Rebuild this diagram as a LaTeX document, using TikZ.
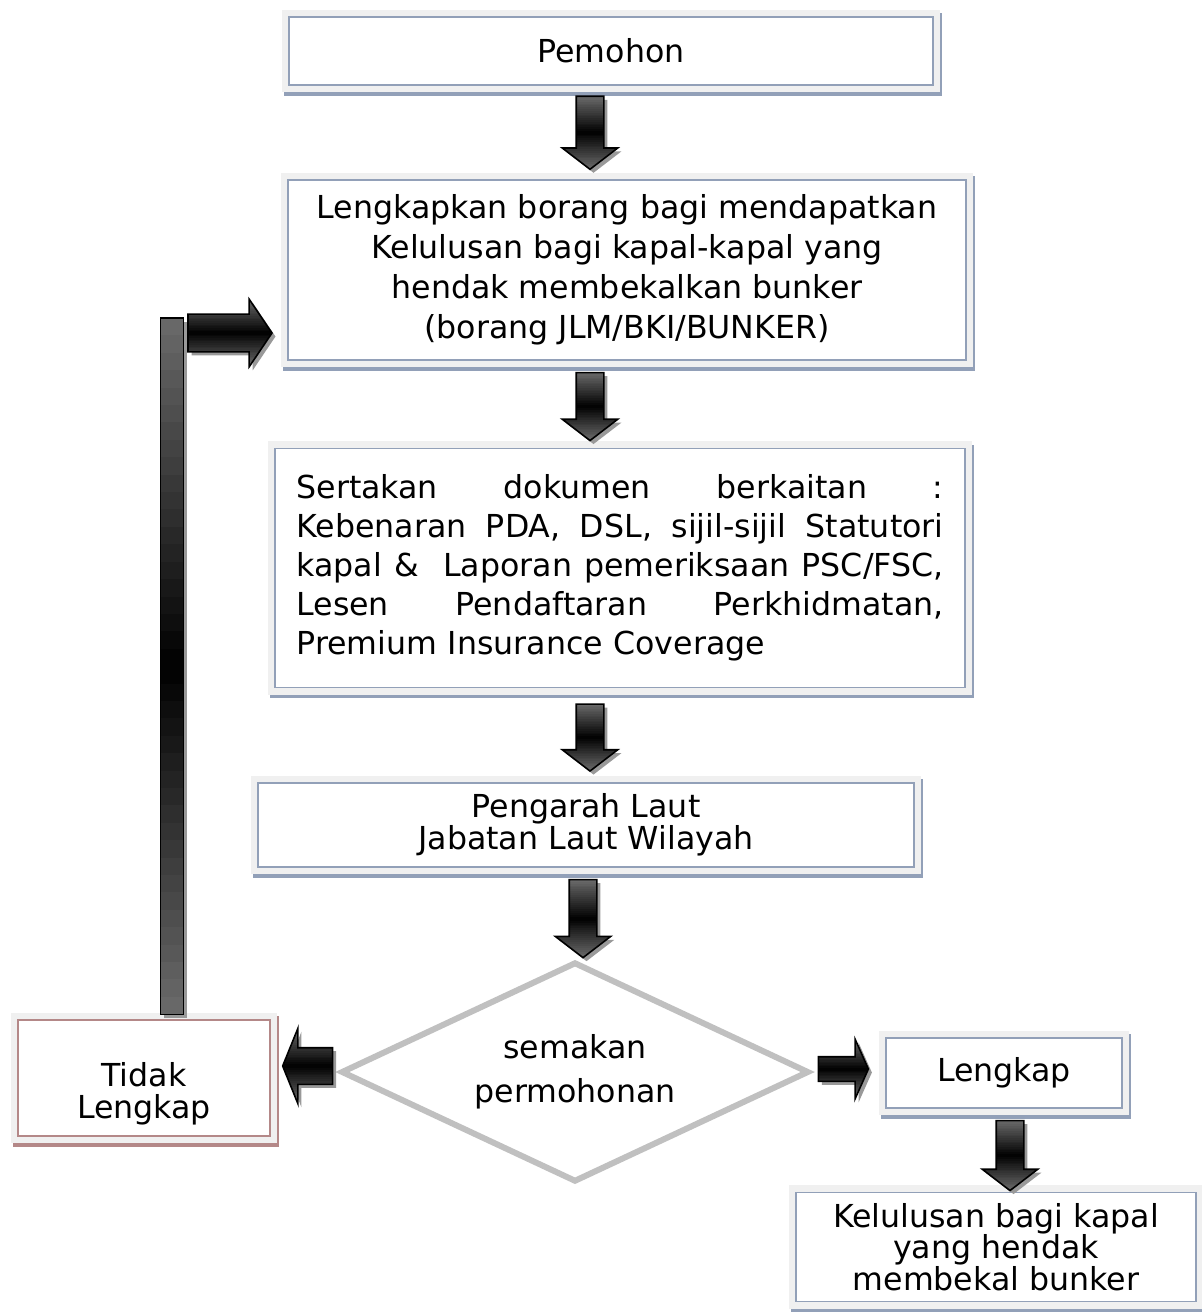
\documentclass[tikz,border=0pt]{standalone}
\usepackage{fontspec}
\setmainfont{DejaVu Sans}
\usetikzlibrary{shapes.geometric,shapes.arrows,shadows,calc}

\definecolor{boxline}{RGB}{146,160,184}
\definecolor{tdkline}{RGB}{180,136,136}
\definecolor{framegray}{RGB}{240,240,240}
\definecolor{dialine}{RGB}{192,192,192}
\newlength\px
\setlength\px{0.02cm}

\begin{document}
    \begin{tikzpicture}[x=0.02cm,y=-0.02cm,
        box/.style={rectangle,fill=white,draw=#1,line width=0.8pt,inner sep=0pt,align=center,
            preaction={draw=#1,line width=8pt,transform canvas={shift={(1pt,-2pt)}}},
            preaction={draw=framegray,line width=8pt},
            font=\fontsize{18}{22.8}\selectfont},
        box/.default=boxline,
        dia/.style={diamond,aspect=2.13,draw=dialine,line width=3.4pt,fill=white,inner sep=0pt,align=center,
            minimum width=468\px,minimum height=220\px,font=\fontsize{18}{25}\selectfont},
        grad/.style={fill=black!60,path picture={
            \foreach \i in {0,...,39}{
                \pgfmathsetmacro\shd{100-42*abs(1-(2*\i+1)/40)}
                \fill[black!\shd]($(path picture bounding box.north west)!{\i/40}!(path picture bounding box.south west)$)
                    rectangle($(path picture bounding box.north east)!{(\i+1.3)/40}!(path picture bounding box.south east)$);}}},
        blockarr/.style={single arrow,draw=black,line width=0.9pt,grad,
            drop shadow={shadow xshift=2pt,shadow yshift=-2pt,fill=black!40,opacity=1}},
        darr/.style={blockarr,shape border rotate=270,inner sep=13\px,
            single arrow head extend=14\px,single arrow tip angle=105},
        bar/.style={draw=black,line width=0.9pt,grad,
            drop shadow={shadow xshift=2pt,shadow yshift=-2pt,fill=black!40,opacity=1}}]
        \useasboundingbox(0,0)rectangle(1202,1314);

        \node[box,minimum width=644\px,minimum height=68\px](pem)at(611,51){Pemohon};
        \node[box,minimum width=678\px,minimum height=180\px](lkp)at(627,270)
            {Lengkapkan borang bagi mendapatkan\\Kelulusan bagi kapal-kapal yang\\hendak membekalkan bunker\\(borang JLM/BKI/BUNKER)};
        \node[box,minimum width=690\px,minimum height=239\px,text width=647\px,align=left,
            font=\fontsize{18}{22.2}\selectfont](ser)at(620,568){%
            \makebox[647\px][s]{Sertakan\hfill dokumen\hfill berkaitan\hfill :}\\
            \makebox[647\px][s]{Kebenaran\hfill PDA,\hfill DSL,\hfill sijil-sijil\hfill Statutori}\\
            \makebox[647\px][s]{kapal\hfill \&\hfill\hfill Laporan\hfill pemeriksaan\hfill PSC/FSC,}\\
            \makebox[647\px][s]{Lesen\hfill Pendaftaran\hfill Perkhidmatan,}\\
            Premium Insurance Coverage};
        \node[box,minimum width=656\px,minimum height=84\px,font=\fontsize{18}{18.2}\selectfont](pen)at(586,825)
            {Pengarah Laut\\Jabatan Laut Wilayah};

        \node[dia](dia)at(575,1072){semakan\\permohonan};

        \node[box=tdkline,minimum width=252\px,minimum height=116\px,
            label={[font=\fontsize{18}{18.2}\selectfont,align=center,yshift=-16\px]center:Tidak\\Lengkap}](tdk)at(144,1078){};
        \node[box,minimum width=236\px,minimum height=70\px](lgk)at(1004,1073){Lengkap};
        \node[box,minimum width=400\px,minimum height=109\px,font=\fontsize{18}{18}\selectfont](kel)at(996,1247)
            {Kelulusan bagi kapal\\yang hendak\\membekal bunker};

        % anak panah utama
        \path(pem.south-|590,0)--(lkp.north-|590,0)node[midway,yshift=5\px,darr,minimum height=73\px]{};
        \path(lkp.south-|590,0)--(ser.north-|590,0)node[midway,yshift=3\px,darr,minimum height=68\px]{};
        \path(ser.south-|590,0)--(pen.north-|590,0)node[midway,yshift=3\px,darr,minimum height=67\px]{};
        \path(pen.south-|583,0)--(dia.north-|583,0)node[midway,darr,minimum height=78\px]{};
        \path(lgk.south-|1010,0)--(kel.north-|1010,0)node[midway,darr,minimum height=70\px]{};

        \path([yshift=6\px]dia.west)--([yshift=6\px]dia.west-|tdk.east)node[midway,xshift=7\px,blockarr,shape border rotate=180,
            minimum height=50\px,inner sep=17.5\px,single arrow head extend=19.5\px,single arrow tip angle=136]{};
        \path([yshift=3\px]dia.east)--([yshift=3\px]dia.east-|lgk.west)node[midway,xshift=-8\px,blockarr,
            minimum height=50\px,inner sep=11.5\px,single arrow head extend=17.5\px,single arrow tip angle=132]{};

        % balik ke borang
        \coordinate(bartop)at(172,318);
        \draw[bar]([xshift=-11.5\px]bartop)rectangle([xshift=11.5\px,yshift=5\px]bartop|-tdk.north);
        \path([yshift=-15\px]bartop)--([yshift=-15\px]bartop-|lkp.west)node[midway,xshift=-6\px,blockarr,
            minimum height=84\px,inner sep=18\px,single arrow head extend=15\px,single arrow tip angle=112]{};
    \end{tikzpicture}
\end{document}
